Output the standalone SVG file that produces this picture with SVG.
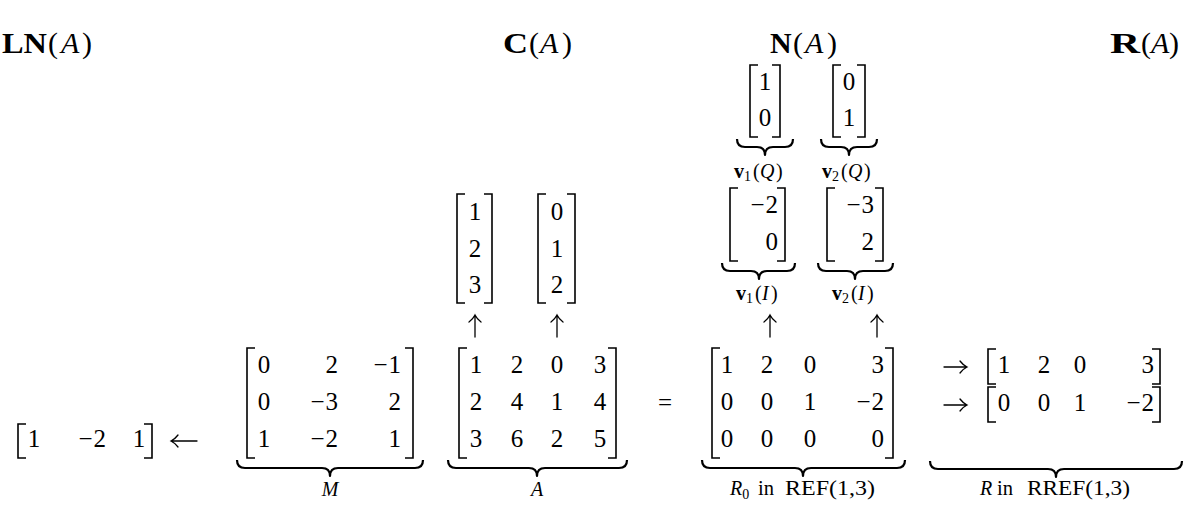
<svg xmlns="http://www.w3.org/2000/svg" width="1200" height="510" viewBox="0 0 1200 510">
<style>
text{font-family:"Liberation Serif","Times New Roman",serif;fill:#000}
.t{font-size:30px}
.b{font-weight:bold}
.i{font-style:italic}
.d{font-size:25px}
.m{text-anchor:middle}
.e{text-anchor:end}
.l{font-size:20px}
.s{font-size:14px}
.br{fill:none;stroke:#000;stroke-width:1.6}
.bc{fill:none;stroke:#000;stroke-width:2.2;stroke-linejoin:round}
.ar{fill:none;stroke:#000;stroke-width:1.3;stroke-linecap:round}
</style>

<g id="title-LN"><text class="t" y="53"><tspan x="2" class="b" textLength="45" lengthAdjust="spacingAndGlyphs">LN</tspan><tspan x="48">(</tspan><tspan x="61" class="i">A</tspan><tspan x="82">)</tspan></text></g>
<g id="title-C"><text class="t" y="53"><tspan x="503" class="b" textLength="25" lengthAdjust="spacingAndGlyphs">C</tspan><tspan x="529">(</tspan><tspan x="540" class="i">A</tspan><tspan x="562">)</tspan></text></g>
<g id="title-N"><text class="t" y="53"><tspan x="770" class="b">N</tspan><tspan x="793">(</tspan><tspan x="805" class="i">A</tspan><tspan x="827">)</tspan></text></g>
<g id="title-R"><text class="t" y="53"><tspan x="1110" class="b" textLength="30" lengthAdjust="spacingAndGlyphs">R</tspan><tspan x="1141">(</tspan><tspan x="1151" class="i">A</tspan><tspan x="1169">)</tspan></text></g>

<g id="rowvec">
<path class="br" d="M26,424H18V458H26M144,424H152V458H144"/>
<text class="d m" x="34" y="447">1</text>
<text class="d e" x="106" y="447">−<tspan dx="1">2</tspan></text>
<text class="d m" x="139" y="447">1</text>
</g>

<g id="M">
<path class="br" d="M255,348H247V458H255M405,348H413V458H405"/>
<g class="d">
<text class="m" x="264" y="373">0</text><text class="m" x="264" y="410">0</text><text class="m" x="264" y="447">1</text>
<text class="e" x="338" y="373">2</text><text class="e" x="338" y="410">−<tspan dx="1">3</tspan></text><text class="e" x="338" y="447">−<tspan dx="1">2</tspan></text>
<text class="e" x="401" y="373">−<tspan dx="1">1</tspan></text><text class="e" x="401" y="410">2</text><text class="e" x="401" y="447">1</text>
</g>
<path class="bc" d="M237,460Q237,468 245,468H322Q330,468 330,476Q330,468 338,468H415Q423,468 423,460"/>
<text class="l i m" x="330" y="496">M</text>
</g>

<g id="A">
<path class="br" d="M467,348H459V458H467M608,348H616V458H608"/>
<g class="d m">
<text x="476" y="373">1</text><text x="517" y="373">2</text><text x="557" y="373">0</text><text x="600" y="373">3</text>
<text x="476" y="410">2</text><text x="517" y="410">4</text><text x="557" y="410">1</text><text x="600" y="410">4</text>
<text x="476" y="447">3</text><text x="517" y="447">6</text><text x="557" y="447">2</text><text x="600" y="447">5</text>
</g>
<path class="bc" d="M448,460Q448,468 456,468H529Q537,468 537,476Q537,468 545,468H619Q627,468 627,460"/>
<text class="l i m" x="537" y="496">A</text>
</g>

<g id="equals"><text class="d m" x="665" y="411">=</text></g>

<g id="R0">
<path class="br" d="M720,348H712V458H720M885,348H893V458H885"/>
<g class="d">
<text class="m" x="727" y="373">1</text><text class="m" x="767" y="373">2</text><text class="m" x="810" y="373">0</text><text class="e" x="884" y="373">3</text>
<text class="m" x="727" y="410">0</text><text class="m" x="767" y="410">0</text><text class="m" x="810" y="410">1</text><text class="e" x="884" y="410">−<tspan dx="1">2</tspan></text>
<text class="m" x="727" y="447">0</text><text class="m" x="767" y="447">0</text><text class="m" x="810" y="447">0</text><text class="e" x="884" y="447">0</text>
</g>
<path class="bc" d="M702,460Q702,468 710,468H795Q803,468 803,476Q803,468 811,468H897Q905,468 905,460"/>
<text class="l" y="495"><tspan x="730" class="i">R</tspan><tspan class="s" dy="4">0</tspan><tspan x="758" dy="-4" textLength="16" lengthAdjust="spacingAndGlyphs">in</tspan></text>
<text class="l" x="785" y="495" textLength="90" lengthAdjust="spacingAndGlyphs">REF(1,3)</text>
</g>

<g id="R">
<path class="br" d="M996,349H988V384H996M1152,349H1160V384H1152M996,387H988V422H996M1152,387H1160V422H1152"/>
<g class="d">
<text class="m" x="1004" y="373">1</text><text class="m" x="1044" y="373">2</text><text class="m" x="1080" y="373">0</text><text class="e" x="1154" y="373">3</text>
<text class="m" x="1004" y="411">0</text><text class="m" x="1044" y="411">0</text><text class="m" x="1080" y="411">1</text><text class="e" x="1154" y="411">−<tspan dx="1">2</tspan></text>
</g>
<path class="bc" d="M930,461Q930,469 938,469H1048Q1056,469 1056,477Q1056,469 1064,469H1174Q1182,469 1182,461"/>
<text class="l" y="495"><tspan x="980" class="i">R</tspan><tspan x="997" textLength="16" lengthAdjust="spacingAndGlyphs">in</tspan></text>
<text class="l" x="1027" y="495" textLength="103" lengthAdjust="spacingAndGlyphs">RREF(1,3)</text>
</g>

<g id="colC1">
<path class="br" d="M465,194H457V303H465M484,194H492V303H484"/>
<g class="d m"><text x="475" y="220">1</text><text x="475" y="257">2</text><text x="475" y="293">3</text></g>
</g>
<g id="colC2">
<path class="br" d="M546,194H538V303H546M567,194H575V303H567"/>
<g class="d m"><text x="557" y="220">0</text><text x="557" y="257">1</text><text x="557" y="293">2</text></g>
</g>

<g id="v1Q">
<path class="br" d="M758,65H750V137H758M772,65H780V137H772"/>
<g class="d m"><text x="765" y="90">1</text><text x="765" y="126">0</text></g>
<path class="bc" d="M737,139Q737,147 745,147H757Q765,147 765,155Q765,147 773,147H785Q793,147 793,139"/>
<text class="l" y="178"><tspan x="734" class="b">v</tspan><tspan class="s" dy="3">1</tspan><tspan x="753" dy="-3">(</tspan><tspan x="760" class="i">Q</tspan><tspan x="776">)</tspan></text>
</g>
<g id="v2Q">
<path class="br" d="M841,65H833V137H841M857,65H865V137H857"/>
<g class="d m"><text x="849" y="90">0</text><text x="849" y="126">1</text></g>
<path class="bc" d="M821,139Q821,147 829,147H841Q849,147 849,155Q849,147 857,147H869Q877,147 877,139"/>
<text class="l" y="178"><tspan x="822" class="b">v</tspan><tspan class="s" dy="3">2</tspan><tspan x="841" dy="-3">(</tspan><tspan x="848" class="i">Q</tspan><tspan x="864">)</tspan></text>
</g>

<g id="v1I">
<path class="br" d="M738,188H730V261H738M777,188H785V261H777"/>
<g class="d e"><text x="778" y="213">−<tspan dx="1">2</tspan></text><text x="778" y="250">0</text></g>
<path class="bc" d="M722,263Q722,271 730,271H751Q759,271 759,279Q759,271 767,271H787Q795,271 795,263"/>
<text class="l" y="300"><tspan x="736" class="b">v</tspan><tspan class="s" dy="3">1</tspan><tspan x="755" dy="-3">(</tspan><tspan x="762" class="i">I</tspan><tspan x="771">)</tspan></text>
</g>
<g id="v2I">
<path class="br" d="M835,188H827V261H835M875,188H883V261H875"/>
<g class="d e"><text x="874" y="213">−<tspan dx="1">3</tspan></text><text x="874" y="250">2</text></g>
<path class="bc" d="M818,263Q818,271 826,271H847Q855,271 855,279Q855,271 863,271H885Q893,271 893,263"/>
<text class="l" y="300"><tspan x="832" class="b">v</tspan><tspan class="s" dy="3">2</tspan><tspan x="851" dy="-3">(</tspan><tspan x="858" class="i">I</tspan><tspan x="867">)</tspan></text>
</g>

<g id="connectors">
<path class="ar" d="M475,337V315M469,322Q473,319 475,315Q477,319 481,322"/>
<path class="ar" d="M557,337V315M551,322Q555,319 557,315Q559,319 563,322"/>
<path class="ar" d="M770,337V315M764,322Q768,319 770,315Q772,319 776,322"/>
<path class="ar" d="M877,337V315M871,322Q875,319 877,315Q879,319 883,322"/>
<path class="ar" d="M944,367H967M960,361Q963,365 967,367Q963,369 960,373"/>
<path class="ar" d="M944,405H967M960,399Q963,403 967,405Q963,407 960,411"/>
<path class="ar" d="M197,441H171M178,435Q175,439 171,441Q175,443 178,447"/>
</g>
</svg>
